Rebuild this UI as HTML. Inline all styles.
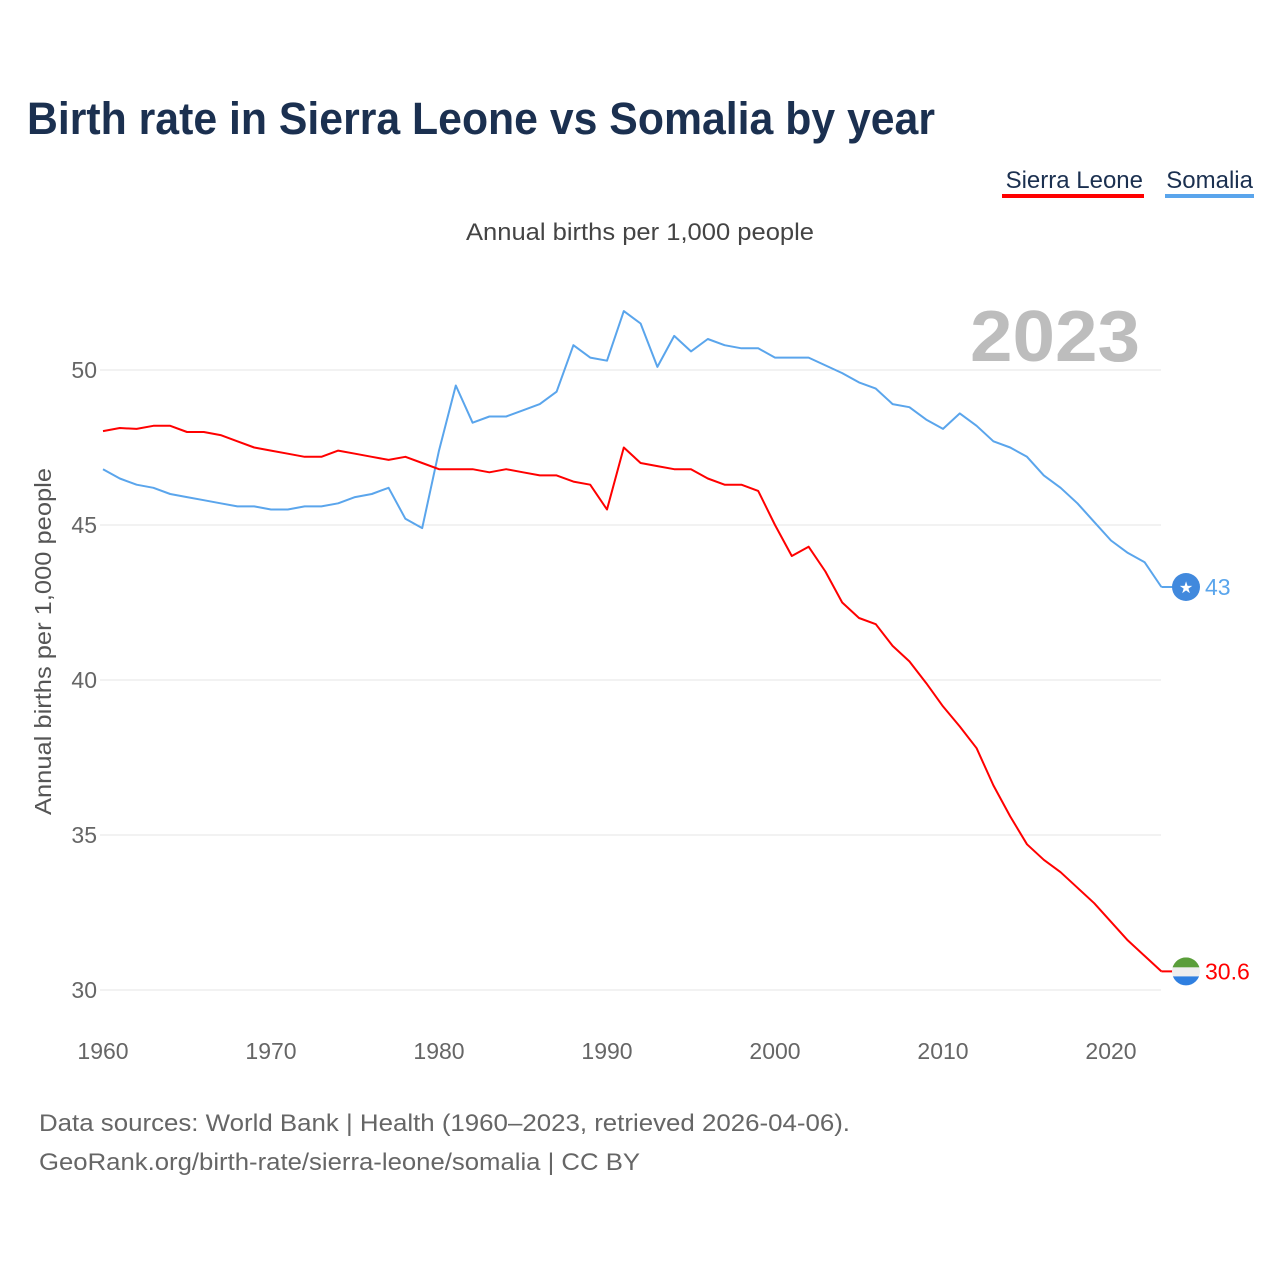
<!DOCTYPE html>
<html><head><meta charset="utf-8">
<style>
body{margin:0;background:#fff;font-family:"Liberation Sans",sans-serif;}
svg text{font-family:"Liberation Sans",sans-serif;}
</style></head>
<body>
<svg id="chart" width="1280" height="1280" viewBox="0 0 1280 1280" xmlns="http://www.w3.org/2000/svg">
<text x="27" y="134" font-size="45" font-weight="bold" fill="#1b3050" textLength="908" lengthAdjust="spacingAndGlyphs">Birth rate in Sierra Leone vs Somalia by year</text>
<g><text x="1143" y="188" font-size="24" fill="#1b3050" text-anchor="end">Sierra Leone</text><rect x="1002" y="194" width="142" height="4" fill="#ff0000"/></g>
<g><text x="1253" y="188" font-size="24" fill="#1b3050" text-anchor="end">Somalia</text><rect x="1165" y="194" width="89" height="4" fill="#5aa5ec"/></g>
<text x="466" y="240" font-size="24" fill="#444" textLength="348" lengthAdjust="spacingAndGlyphs">Annual births per 1,000 people</text>
<text x="970" y="361" font-size="72" font-weight="bold" fill="#bdbdbd" textLength="170" lengthAdjust="spacingAndGlyphs">2023</text>
<text transform="translate(51,815) rotate(-90)" font-size="23" fill="#555" textLength="347" lengthAdjust="spacingAndGlyphs">Annual births per 1,000 people</text>
<g id="grid"></g>
<g id="yticks"></g>
<g id="xticks"></g>
<g id="series"></g>
<text x="39" y="1131" font-size="24" fill="#666" textLength="811" lengthAdjust="spacingAndGlyphs">Data sources: World Bank | Health (1960–2023, retrieved 2026-04-06).</text>
<text x="39" y="1170" font-size="24" fill="#666" textLength="601" lengthAdjust="spacingAndGlyphs">GeoRank.org/birth-rate/sierra-leone/somalia | CC BY</text>
</svg>
<script>
const years = Array.from({length:64},(_,i)=>1960+i);
const sierraLeone = [48.03,48.13,48.1,48.2,48.2,48.0,48.0,47.9,47.7,47.5,47.4,47.3,47.2,47.2,47.4,47.3,47.2,47.1,47.2,47.0,46.8,46.8,46.8,46.7,46.8,46.7,46.6,46.6,46.4,46.3,45.5,47.5,47.0,46.9,46.8,46.8,46.5,46.3,46.3,46.1,45.0,44.0,44.3,43.5,42.5,42.0,41.8,41.1,40.6,39.9,39.15,38.5,37.8,36.6,35.6,34.7,34.2,33.8,33.3,32.8,32.2,31.6,31.1,30.6];
const somalia = [46.8,46.5,46.3,46.2,46.0,45.9,45.8,45.7,45.6,45.6,45.5,45.5,45.6,45.6,45.7,45.9,46.0,46.2,45.2,44.9,47.4,49.5,48.3,48.5,48.5,48.7,48.9,49.3,50.8,50.4,50.3,51.9,51.5,50.1,51.1,50.6,51.0,50.8,50.7,50.7,50.4,50.4,50.4,50.15,49.9,49.6,49.4,48.9,48.8,48.4,48.1,48.6,48.2,47.7,47.5,47.2,46.6,46.2,45.7,45.1,44.5,44.1,43.8,43.0];
const yTicks = [30,35,40,45,50];
const xTicks = [1960,1970,1980,1990,2000,2010,2020];
const X = y => 103 + (y-1960)*16.8;
const Y = v => 990 - (v-30)*31;
const NS="http://www.w3.org/2000/svg";
function mk(tag,attrs,parent){const e=document.createElementNS(NS,tag);for(const k in attrs)e.setAttribute(k,attrs[k]);parent.appendChild(e);return e;}
const grid=document.getElementById('grid'),yt=document.getElementById('yticks'),xt=document.getElementById('xticks'),ser=document.getElementById('series');
yTicks.forEach(t=>{
  const l=mk('line',{x1:100,x2:1161,y1:Y(t),y2:Y(t),stroke:'#e6e6e6','stroke-width':1},grid);
  
  
  const tx=mk('text',{x:97,y:Y(t)+8,'font-size':23,fill:'#666','text-anchor':'end'},yt);
  tx.textContent=t;
  
  
});
xTicks.forEach(t=>{
  const tx=mk('text',{x:X(t),y:1059,'font-size':23,fill:'#666','text-anchor':'middle'},xt);
  tx.textContent=t;
  
  
});
function line(data,color,name){
  const d=data.map((v,i)=>(i?'L':'M')+X(years[i]).toFixed(1)+','+Y(v).toFixed(1)).join('');
  const p=mk('path',{d:d,fill:'none',stroke:color,'stroke-width':2,'stroke-linejoin':'round'},ser);
  
  
}
line(somalia,'#5aa5ec','somalia-line');
line(sierraLeone,'#ff0000','sierra-leone-line');
const lastS=somalia[somalia.length-1], lastL=sierraLeone[sierraLeone.length-1], lx=X(years[years.length-1]);
const sl1=mk('line',{x1:lx,x2:1178,y1:Y(lastS),y2:Y(lastS),stroke:'#5aa5ec','stroke-width':2},ser);


const c1=mk('circle',{cx:1186,cy:Y(lastS),r:14,fill:'#4189dd'},ser);


const st=mk('text',{x:1186,y:Y(lastS)+6,'font-size':16,fill:'#fff','text-anchor':'middle'},ser);
st.textContent='★';


const v1=mk('text',{x:1205,y:Y(lastS)+8,'font-size':23,fill:'#5aa5ec'},ser);
v1.textContent=String(lastS).replace(/\.0$/,'');


const cy=Y(lastL);
const sl2=mk('line',{x1:lx,x2:1178,y1:cy,y2:cy,stroke:'#ff0000','stroke-width':2},ser);


const fl=mk('g',{},ser);


mk('clipPath',{id:'fc'},fl);
mk('circle',{cx:1186,cy:cy,r:14},document.getElementById('fc'));
mk('rect',{x:1172,y:cy-14,width:28,height:10,fill:'#5a9e3a','clip-path':'url(#fc)'},fl);
mk('rect',{x:1172,y:cy-4,width:28,height:9,fill:'#eeeeee','clip-path':'url(#fc)'},fl);
mk('rect',{x:1172,y:cy+5,width:28,height:10,fill:'#2f7fe0','clip-path':'url(#fc)'},fl);
const v2=mk('text',{x:1205,y:cy+8,'font-size':23,fill:'#ff0000'},ser);
v2.textContent=lastL;


</script>
</body></html>
